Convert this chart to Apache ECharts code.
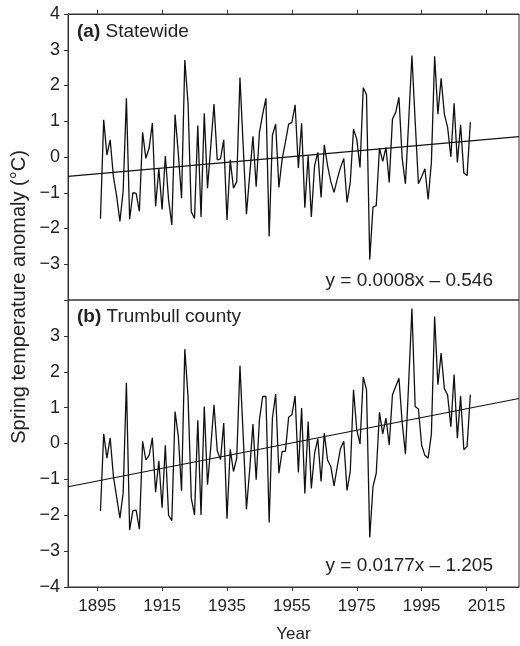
<!DOCTYPE html>
<html><head><meta charset="utf-8">
<script src="https://cdn.jsdelivr.net/npm/echarts@6/dist/echarts.min.js"></script>
<style>html,body{margin:0;padding:0;background:#fff}#c{width:520px;height:646px}</style>
</head><body><div id="c"></div><script>
const firstYear = 1896;
const statewide = [
-1.73, 1.04, 0.06, 0.48, -0.55, -1.1, -1.8, -0.95, 1.64, -1.74,
-1.0, -1.02, -1.52, 0.69, -0.04, 0.25, 0.95, -1.38, -0.32, -1.47,
0.03, -1.2, -1.9, 1.19, 0.1, -1.15, 2.71, 1.5, -1.53, -1.72,
0.88, -1.68, 1.22, -0.87, 0.3, 1.48, -0.08, -0.05, 0.48, -1.76,
-0.08, -0.87, -0.69, 2.22, 0.3, -1.6, -0.5, 0.58, -0.83, 0.69,
1.2, 1.64, -2.22, 0.61, 0.92, -0.85, -0.06, 0.41, 0.92, 0.97,
1.46, -0.31, 0.94, -1.42, 0.04, -1.68, -0.24, 0.13, -1.13, 0.34,
-0.24, -0.69, -0.99, -0.61, -0.29, -0.04, -1.27, -0.7, 0.78, 0.5,
-0.29, 1.94, 1.74, -2.87, -1.4, -1.36, 0.25, -0.12, 0.27, -0.71,
1.06, 1.25, 1.67, -0.04, -0.75, 1.0, 2.84, 1.0, -0.75, -0.55,
-0.33, -1.19, -0.15, 2.82, 1.2, 2.2, 1.2, 0.83, 0.0, 1.5,
-0.15, 0.9, -0.45, -0.52, 0.97
];
const trumbull = [
-1.88, 0.27, -0.41, 0.16, -0.92, -1.5, -2.08, -1.38, 1.69, -2.41,
-1.87, -1.86, -2.39, 0.06, -0.46, -0.33, 0.16, -1.36, -0.48, -1.79,
-0.05, -2.0, -2.15, 0.89, 0.2, -1.32, 2.63, 1.3, -1.53, -1.99,
0.65, -1.99, 1.03, -1.15, -0.1, 1.08, -0.2, -0.45, 0.57, -2.1,
-0.16, -0.78, -0.41, 2.17, 0.2, -1.83, -0.73, 0.54, -1.01, 0.66,
1.31, 1.31, -2.2, 0.71, 1.38, -0.83, -0.22, -0.22, 0.73, 0.8,
1.33, -0.81, 0.99, -1.39, 0.61, -1.25, -0.27, 0.13, -1.06, 0.29,
-0.46, -0.64, -1.18, -0.64, -0.13, 0.06, -1.31, -0.78, 1.5, 0.38,
-0.01, 1.85, 1.5, -2.62, -1.2, -0.83, 0.87, 0.27, 0.71, -0.04,
1.36, 1.59, 1.82, 0.57, -0.29, 1.7, 3.76, 1.03, 0.96, -0.05,
-0.33, -0.41, 0.27, 3.54, 1.64, 2.52, 1.53, 1.35, 0.47, 1.92,
0.15, 1.32, -0.17, -0.08, 1.36
];
const xTicks = [1895, 1915, 1935, 1955, 1975, 1995, 2015];
const xRange = [1886, 2025];
const yRange = [-4, 4];
const panelLetters = ['(a)', '(b)'];
const panelNames = ['Statewide', 'Trumbull county'];
const equations = ['y = 0.0008x \u2013 0.546', 'y = 0.0177x \u2013 1.205'];
const trendStart = [-0.54, -1.205];   // trend value at the left edge year
const trendSlope = [0.0080, 0.0177];  // per year

const years = statewide.map((_, i) => firstYear + i);
const pairs = arr => arr.map((v, i) => [years[i], v]);
const trend = k => [[xRange[0], trendStart[k]], [xRange[1], trendStart[k] + trendSlope[k] * (xRange[1] - xRange[0])]];

const FONT = 'Liberation Sans, Arial, Helvetica, sans-serif';
const AX = '#333';
const TXT = '#222';
const fmtY = hide => v => (v === hide ? '' : (v < 0 ? '\u2212' + Math.abs(v) : String(v)));

const chart = echarts.init(document.getElementById('c'), null, {renderer: 'canvas'});
chart.setOption({
  animation: false,
  backgroundColor: '#fff',
  textStyle: {fontFamily: FONT},
  grid: [
    {left: 68, right: 1, top: 14, height: 286, show: true, borderColor: AX, borderWidth: 1},
    {left: 68, right: 1, top: 300, height: 287, show: true, borderColor: AX, borderWidth: 1}
  ],
  xAxis: [
    {gridIndex: 0, type: 'value', min: xRange[0], max: xRange[1], position: 'top',
     axisLine: {show: true, onZero: false, lineStyle: {color: AX}},
     axisTick: {show: true, inside: false, length: 4, customValues: xTicks, lineStyle: {color: AX}},
     axisLabel: {show: false}, splitLine: {show: false}},
    {gridIndex: 1, type: 'value', min: xRange[0], max: xRange[1], position: 'bottom',
     axisLine: {show: true, onZero: false, lineStyle: {color: AX}},
     axisTick: {show: true, inside: false, length: 4, customValues: xTicks, lineStyle: {color: AX}},
     axisLabel: {show: true, customValues: xTicks, color: TXT, fontSize: 17, margin: 11, fontFamily: FONT,
                 formatter: v => String(v)},
     splitLine: {show: false},
     name: 'Year', nameLocation: 'middle', nameGap: 39,
     nameTextStyle: {color: TXT, fontSize: 17, fontFamily: FONT}}
  ],
  yAxis: [
    {gridIndex: 0, type: 'value', min: yRange[0], max: yRange[1], interval: 1,
     axisLine: {show: true, onZero: false, lineStyle: {color: AX}},
     axisTick: {show: true, inside: false, length: 4, lineStyle: {color: AX}},
     axisLabel: {color: TXT, fontSize: 18, margin: 8, fontFamily: FONT, formatter: fmtY(yRange[0])},
     splitLine: {show: false}},
    {gridIndex: 1, type: 'value', min: yRange[0], max: yRange[1], interval: 1,
     axisLine: {show: true, onZero: false, lineStyle: {color: AX}},
     axisTick: {show: true, inside: false, length: 4, lineStyle: {color: AX}},
     axisLabel: {color: TXT, fontSize: 18, margin: 8, fontFamily: FONT, formatter: fmtY(yRange[1])},
     splitLine: {show: false}}
  ],
  series: [
    {type: 'line', xAxisIndex: 0, yAxisIndex: 0, data: pairs(statewide), showSymbol: false,
     lineStyle: {color: '#111', width: 1.3}, z: 3},
    {type: 'line', xAxisIndex: 1, yAxisIndex: 1, data: pairs(trumbull), showSymbol: false,
     lineStyle: {color: '#111', width: 1.3}, z: 3},
    {type: 'line', xAxisIndex: 0, yAxisIndex: 0, data: trend(0), showSymbol: false,
     lineStyle: {color: '#111', width: 1.2}, z: 4},
    {type: 'line', xAxisIndex: 1, yAxisIndex: 1, data: trend(1), showSymbol: false,
     lineStyle: {color: '#111', width: 1.2}, z: 4}
  ],
  graphic: [
    {type: 'text', x: 19, y: 297, rotation: Math.PI / 2,
     style: {text: 'Spring temperature anomaly (\u00b0C)', fill: TXT, fontSize: 20, fontFamily: FONT,
             align: 'center', verticalAlign: 'middle'}},
    {type: 'text', x: 77, y: 32,
     style: {text: '{b|' + panelLetters[0] + '} ' + panelNames[0], fill: TXT, fontSize: 19, fontFamily: FONT,
             verticalAlign: 'middle',
             rich: {b: {fontWeight: 'bold', fontSize: 19, fontFamily: FONT, fill: TXT}}}},
    {type: 'text', x: 77, y: 317,
     style: {text: '{b|' + panelLetters[1] + '} ' + panelNames[1], fill: TXT, fontSize: 19, fontFamily: FONT,
             verticalAlign: 'middle',
             rich: {b: {fontWeight: 'bold', fontSize: 19, fontFamily: FONT, fill: TXT}}}},
    {type: 'text', x: 493, y: 281,
     style: {text: equations[0], fill: TXT, fontSize: 19, fontFamily: FONT, align: 'right', verticalAlign: 'middle'}},
    {type: 'text', x: 493, y: 566,
     style: {text: equations[1], fill: TXT, fontSize: 19, fontFamily: FONT, align: 'right', verticalAlign: 'middle'}}
  ]
});
</script></body></html>
